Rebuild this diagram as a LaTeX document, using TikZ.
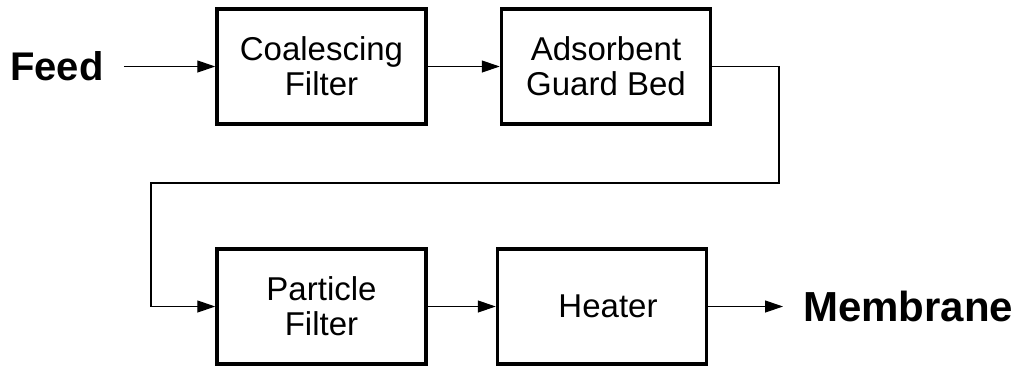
\documentclass[tikz,border=0pt]{standalone}
\usepackage{fontspec}
\setmainfont{Liberation Sans}
\usetikzlibrary{arrows.meta}
\begin{document}
\begin{tikzpicture}[x=1pt,y=1pt,
  box/.style={draw,line width=3.5pt,minimum width=209pt,minimum height=115pt,inner sep=0pt,align=center,font=\fontsize{33}{35}\selectfont},
  lbl/.style={font=\fontsize{40}{44}\selectfont\bfseries,inner sep=0pt},
  arr/.style={line width=1.2pt,-{Triangle[length=18pt,width=12pt]}}]
\useasboundingbox (0,0) rectangle (1020,-368);
\node[box] (b1) at (321.5,-66.5) {Coalescing\\Filter};
\node[box] (b2) at (606,-66.5) {Adsorbent\\Guard Bed};
\node[box] (b3) at (321.5,-306.5) {Particle\\Filter};
\node[box] (b4) at (602,-306.5) {\hspace*{12pt}Heater};
\node[lbl,anchor=west] (feed) at (10,-66.5) {Feed};
\node[lbl,anchor=west,font=\fontsize{42}{46}\selectfont\bfseries] (mem) at (803,-306.5) {Membrane};
\coordinate (c1) at (779,-66.5);
\coordinate (c2) at (779,-183);
\coordinate (c3) at (151,-183);
\coordinate (c4) at (151,-306.5);
\draw[arr,shorten <=20pt] (feed.east) -- (b1.west);
\draw[arr] (b1.east) -- (b2.west);
\draw[arr] (b2.east) -- (c1) -- (c2) -- (c3) -- (c4) -- (b3.west);
\draw[arr] (b3.east) -- (b4.west);
\draw[arr,shorten >=20pt] (b4.east) -- (mem.west);
\end{tikzpicture}
\end{document}
